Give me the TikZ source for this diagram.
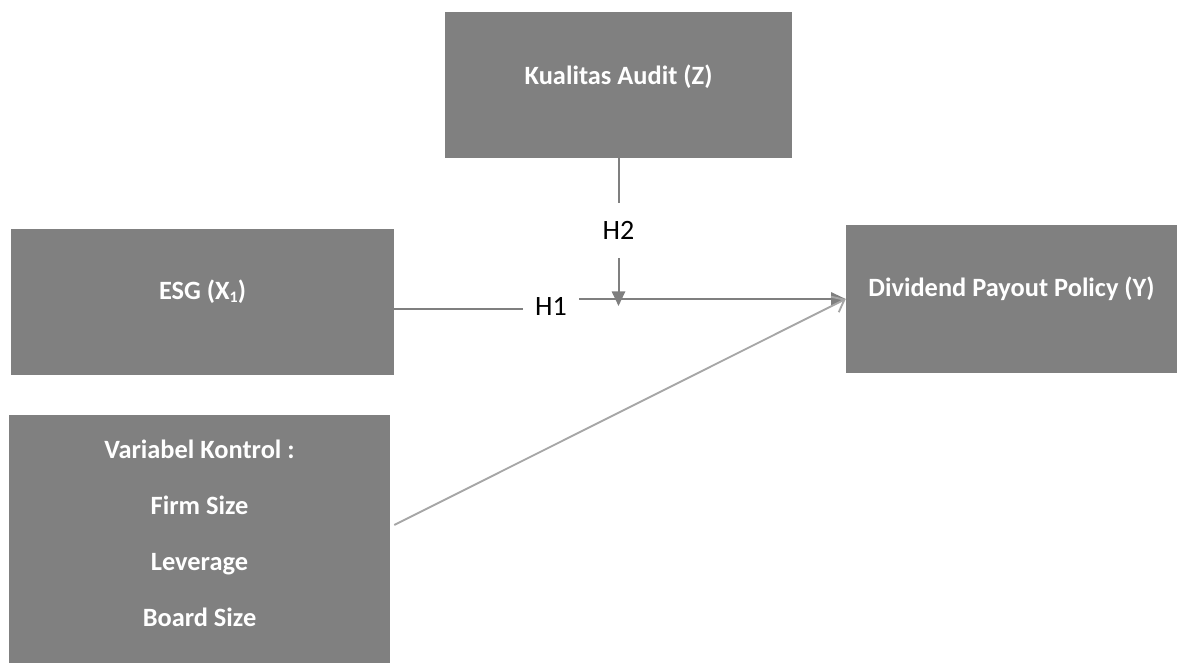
\documentclass[tikz,border=0pt]{standalone}
\usepackage{fontspec}
\setmainfont{Carlito}
\usetikzlibrary{arrows.meta,fit}
\definecolor{boxgray}{HTML}{808080}
\definecolor{linegray}{HTML}{7F7F7F}
\definecolor{lightgray}{HTML}{A6A6A6}
\tikzset{
  box/.style={fill=boxgray, draw=none, inner sep=0pt},
  lbl/.style={text=white, font=\fontsize{19.8}{42}\selectfont\bfseries, align=center, inner sep=0pt},
  hlab/.style={text=black, font=\fontsize{21}{24}\selectfont, inner sep=0pt},
  conn/.style={draw=linegray, line width=1.5pt},
  ctrlconn/.style={draw=lightgray, line width=1.4pt},
  tri/.style={-{Triangle[length=11pt,width=10pt]}},
  barb/.style={-{Straight Barb[length=8pt,width=13pt,line width=1.4pt]}}
}
\begin{document}
\begin{tikzpicture}[x=0.75pt,y=-0.75pt]
\useasboundingbox (0,0) rectangle (1187,663);
% boxes
\node[box, fit={(445,12) (792,158)}, label={[lbl,yshift=6pt]center:Kualitas Audit (Z)}] (z) {};
\node[box, fit={(11,229) (394,375)}, label={[lbl,yshift=7.5pt]center:ESG (X{\fontsize{12}{14}\selectfont\raisebox{-2pt}{1}})}] (esg) {};
\node[box, fit={(846,225) (1177,373)}, label={[lbl,yshift=7.5pt]center:Dividend Payout Policy (Y)}] (dpp) {};
\node[box, fit={(9,415) (390,663)}, label={[lbl,yshift=4.5pt]center:Variabel Kontrol :\\Firm Size\\Leverage\\Board Size}] (ctrl) {};
% labels
\node[hlab, minimum width=42pt] (h1) at (551,306) {H1};
\node[hlab, minimum height=41.25pt] (h2) at (618.5,230.5) {H2};
\coordinate (yl) at (0,309);
\coordinate (ytip) at (0,306);
% connectors
\draw[conn] (esg.east |- yl) -- (h1.west |- yl);
\draw[conn,tri] (h1.east |- dpp.west) -- (dpp.west);
\draw[conn] (z.south) -- (h2.north);
\draw[conn,tri] (h2.south) -- (z.south |- ytip);
\draw[ctrlconn,barb] ([shift={(4,-14)}]ctrl.east) -- (dpp.west);
\end{tikzpicture}
\end{document}
